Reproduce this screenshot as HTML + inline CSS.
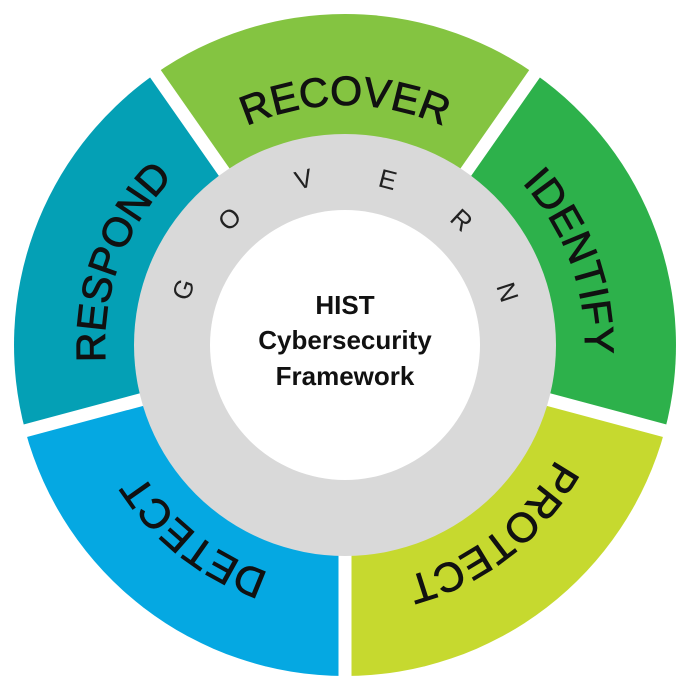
<!DOCTYPE html>
<html><head><meta charset="utf-8"><style>html,body{margin:0;padding:0;background:#fff}svg{display:block}</style></head>
<body>
<svg width="689" height="689" viewBox="0 0 689 689" xmlns="http://www.w3.org/2000/svg" font-family="Liberation Sans, sans-serif">
<defs>
<path id="ring" d="M345,585 A240,240 0 1 1 345,105 A240,240 0 1 1 345,585"/>
</defs>
<g transform="translate(345,345)">
<path d="M0,0 L-189.9,-271.1 A331,331 0 0 1 189.9,-271.1 Z" fill="#84c441"/>
<path d="M0,0 L189.9,-271.1 A331,331 0 0 1 319.7,85.7 Z" fill="#2db14b"/>
<path d="M0,0 L319.7,85.7 A331,331 0 0 1 0,331 Z" fill="#c6d92f"/>
<path d="M0,0 L0,331 A331,331 0 0 1 -319.7,85.7 Z" fill="#05a8e2"/>
<path d="M0,0 L-319.7,85.7 A331,331 0 0 1 -189.9,-271.1 Z" fill="#04a0b5"/>
<g stroke="#fff" stroke-width="13">
<line x1="0" y1="0" x2="-195" y2="-279"/>
<line x1="0" y1="0" x2="195" y2="-279"/>
<line x1="0" y1="0" x2="330" y2="88.5"/>
<line x1="0" y1="0" x2="-330" y2="88.5"/>
<line x1="0" y1="0" x2="0" y2="345"/>
</g>
<circle r="211" fill="#d9d9d9"/>
<circle r="135" fill="#fff"/>
<g font-size="26" fill="#222" text-anchor="middle">
<text transform="rotate(-71) translate(0,-162)">G</text>
<text transform="rotate(-42.5) translate(0,-162)">O</text>
<text transform="rotate(-14) translate(0,-162)">V</text>
<text transform="rotate(14.5) translate(0,-162)">E</text>
<text transform="rotate(43) translate(0,-162)">R</text>
<text transform="rotate(72) translate(0,-162)">N</text>
</g>
</g>
<g font-size="41" fill="#111" stroke="#111" stroke-width="0.9">
<text><textPath href="#ring" startOffset="50%" text-anchor="middle">RECOVER</textPath></text>
<text><textPath href="#ring" startOffset="69.4%" text-anchor="middle">IDENTIFY</textPath></text>
<text><textPath href="#ring" startOffset="89.4%" text-anchor="middle">PROTECT</textPath></text>
<text><textPath href="#ring" startOffset="10.6%" text-anchor="middle">DETECT</textPath></text>
<text><textPath href="#ring" startOffset="30.6%" text-anchor="middle">RESPOND</textPath></text>
</g>
<g font-size="26" font-weight="bold" fill="#111" text-anchor="middle">
<text x="345" y="314">HIST</text>
<text x="345" y="349">Cybersecurity</text>
<text x="345" y="385">Framework</text>
</g>
</svg>
</body></html>
